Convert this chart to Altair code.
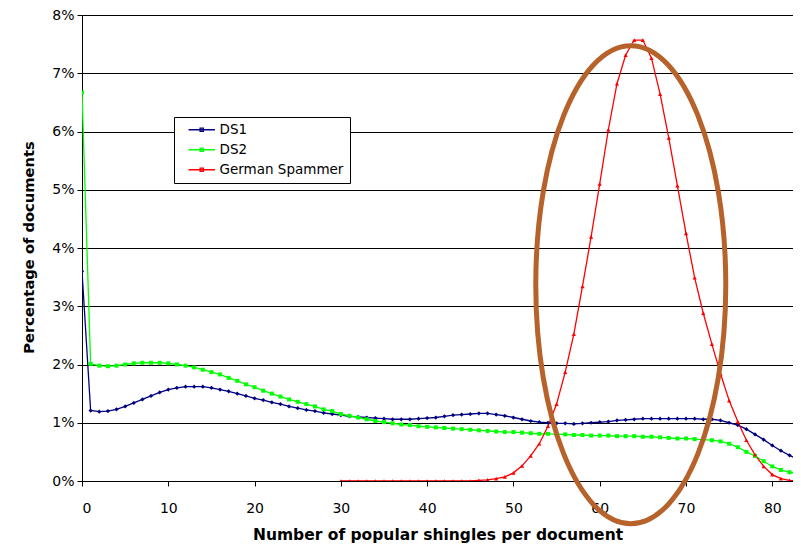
import altair as alt
import pandas as pd

# ---- data ----
ds_x = list(range(0, 84))
ds1 = [3.60, 1.21, 1.19, 1.20, 1.23, 1.28, 1.34, 1.40, 1.46, 1.52,
       1.57, 1.60, 1.62, 1.62, 1.62, 1.60, 1.57, 1.54, 1.50, 1.46,
       1.42, 1.39, 1.35, 1.32, 1.28, 1.25, 1.22, 1.20, 1.17, 1.15,
       1.13, 1.11, 1.10, 1.09, 1.08, 1.07, 1.06, 1.06, 1.06, 1.07,
       1.08, 1.09, 1.11, 1.13, 1.14, 1.15, 1.16, 1.16, 1.14, 1.12,
       1.09, 1.06, 1.03, 1.01, 1.00, 0.99, 0.99, 0.98, 0.99, 1.00,
       1.01, 1.02, 1.04, 1.05, 1.06, 1.07, 1.07, 1.07, 1.07, 1.07,
       1.07, 1.07, 1.06, 1.06, 1.04, 1.00, 0.96, 0.89, 0.80, 0.71,
       0.61, 0.52, 0.44, 0.37]
ds2 = [6.67, 2.01, 1.98, 1.97, 1.98, 2.00, 2.02, 2.03, 2.03, 2.03,
       2.02, 2.00, 1.98, 1.95, 1.91, 1.87, 1.83, 1.77, 1.72, 1.66,
       1.61, 1.55, 1.50, 1.45, 1.40, 1.36, 1.32, 1.28, 1.23, 1.20,
       1.15, 1.12, 1.09, 1.06, 1.03, 1.01, 0.99, 0.97, 0.96, 0.94,
       0.93, 0.92, 0.91, 0.90, 0.89, 0.88, 0.87, 0.86, 0.85, 0.84,
       0.84, 0.83, 0.82, 0.81, 0.81, 0.80, 0.80, 0.79, 0.79, 0.78,
       0.78, 0.78, 0.77, 0.77, 0.77, 0.76, 0.76, 0.75, 0.74, 0.73,
       0.73, 0.72, 0.71, 0.70, 0.68, 0.64, 0.58, 0.50, 0.43, 0.34,
       0.25, 0.19, 0.15, 0.13]
gs_x = list(range(30, 84))
german = [0.00, 0.00, 0.00, 0.00, 0.00, 0.00, 0.00, 0.00, 0.00, 0.00,
          0.00, 0.00, 0.00, 0.00, 0.00, 0.00, 0.01, 0.02, 0.04, 0.07,
          0.14, 0.26, 0.43, 0.64, 0.94, 1.32, 1.87, 2.52, 3.34, 4.19,
          5.10, 6.03, 6.82, 7.31, 7.57, 7.57, 7.26, 6.64, 5.89, 5.07,
          4.25, 3.49, 2.88, 2.35, 1.84, 1.38, 1.02, 0.70, 0.45, 0.25,
          0.11, 0.04, 0.01, 0.00]

series_names = ["DS1", "DS2", "German Spammer"]
series_colors = ["#000080", "#00FF00", "#FF0000"]
series_shapes = ["diamond", "square", "triangle-up"]
series_marker_sizes = [18, 16, 18]

x_ticks = [0, 10, 20, 30, 40, 50, 60, 70, 80]
y_ticks = [0, 1, 2, 3, 4, 5, 6, 7, 8]

# annotation ellipse (centre in data units)
ellipse_x = [63.6]
ellipse_y = [3.37]

rows = []
for name, xs, vs in [("DS1", ds_x, ds1), ("DS2", ds_x, ds2), ("German Spammer", gs_x, german)]:
    for x, v in zip(xs, vs):
        rows.append({"n": x, "pct": v, "series": name})
df = pd.DataFrame(rows)
ell = pd.DataFrame({"n": ellipse_x, "pct": ellipse_y})

FONT = "DejaVu Sans"
x_scale = alt.Scale(domain=[0, 82.4], nice=False, zero=False)
y_scale = alt.Scale(domain=[0, 8], nice=False)
color_scale = alt.Scale(domain=series_names, range=series_colors)

x_axis = alt.Axis(values=x_ticks, title="Number of popular shingles per document",
                  grid=False, tickSize=5, tickColor="black", domainColor="black",
                  labelFont=FONT, labelFontSize=14, labelColor="black", labelPadding=15,
                  titleFont=FONT, titleFontSize=15.5, titleFontWeight="bold", titleColor="black",
                  titleBaseline="alphabetic", titleY=58)
y_axis = alt.Axis(values=y_ticks, title="Percentage of documents",
                  labelExpr="datum.value + '%'",
                  grid=True, gridColor="black", gridWidth=1, gridOpacity=1,
                  tickSize=5, tickColor="black", domainColor="black",
                  labelFont=FONT, labelFontSize=14, labelColor="black", labelPadding=3,
                  titleFont=FONT, titleFontSize=14.7, titleFontWeight="bold", titleColor="black",
                  titleAngle=270, titleAlign="center", titleBaseline="middle",
                  titleX=-53, titleY=232)

legend_symbol = "M-2.4,0L2.4,0M-0.3,-0.3L0.3,-0.3L0.3,0.3L-0.3,0.3Z"

base = alt.Chart(df)
lines = base.mark_line(strokeWidth=1.3, clip=True).encode(
    x=alt.X("n:Q", scale=x_scale, axis=x_axis),
    y=alt.Y("pct:Q", scale=y_scale, axis=y_axis),
    color=alt.Color("series:N", scale=color_scale,
                    legend=alt.Legend(title=None, orient="none", legendX=92, legendY=102,
                                      fillColor="white", strokeColor="black", padding=6,
                                      symbolType=legend_symbol, symbolSize=121,
                                      symbolStrokeWidth=1.3, symbolOffset=15,
                                      labelOffset=11, labelFont=FONT, labelFontSize=13.5,
                                      labelColor="black", rowPadding=5)),
)

point_layers = []
for name, col, shp, sz in zip(series_names, series_colors, series_shapes, series_marker_sizes):
    point_layers.append(
        base.transform_filter(alt.datum.series == name)
        .mark_point(filled=True, size=sz, opacity=1, strokeWidth=0, clip=True, color=col, shape=shp)
        .encode(x=alt.X("n:Q", scale=x_scale), y=alt.Y("pct:Q", scale=y_scale))
    )

ellipse = alt.Chart(ell).mark_point(
    shape="M0,-1A0.3975,1 0 1,1 0,1A0.3975,1 0 1,1 0,-1Z",
    size=228484, filled=False, opacity=1, stroke="#B7622A", strokeWidth=5,
).encode(
    x=alt.X("n:Q", scale=x_scale),
    y=alt.Y("pct:Q", scale=y_scale),
)

chart = alt.layer(lines, *point_layers, ellipse).properties(
    width=711, height=466,
    autosize=alt.AutoSizeParams(type="none"),
    padding={"left": 74, "top": 7, "right": 0, "bottom": 64},
    background="white",
).configure_view(stroke=None)

chart.save("out.html", embed_options={"renderer": "svg", "actions": False})
